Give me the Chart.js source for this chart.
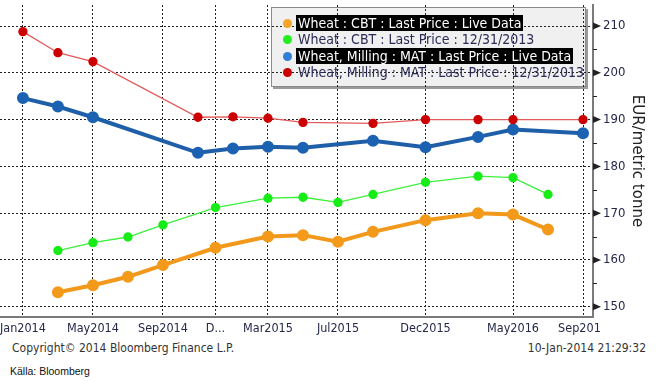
<!DOCTYPE html>
<html>
<head>
<meta charset="utf-8">
<script src="https://cdn.jsdelivr.net/npm/chart.js@4/dist/chart.umd.min.js"></script>
<style>
  body { margin: 0; background: #fff; width: 656px; height: 381px; overflow: hidden; position: relative; }
  #wrap { position: absolute; left: 0; top: 0; width: 656px; height: 340px; }
  .lg { position: absolute; left: 296px; height: 16px; line-height: 16px; font: 14px "DejaVu Sans Condensed", "DejaVu Sans", sans-serif; color: #2a2a55; white-space: nowrap; padding: 0 2px; }
  .lg.hi { background: #000; color: #fff; }
  .dot { position: absolute; left: 283px; width: 9px; height: 9px; border-radius: 50%; }
  .foot { position: absolute; font: 12px "DejaVu Sans Condensed", "DejaVu Sans", sans-serif; color: #333; white-space: nowrap; }
</style>
</head>
<body>
<div id="wrap"><canvas id="chart" width="656" height="340"></canvas></div>

<div class="dot" style="top:19px;background:#f5a52a"></div>
<div class="lg hi" style="top:15px">Wheat : CBT : Last Price : Live Data</div>
<div class="dot" style="top:35px;background:#22ee22"></div>
<div class="lg" style="top:31px">Wheat : CBT : Last Price : 12/31/2013</div>
<div class="dot" style="top:52px;background:#2f7fd6"></div>
<div class="lg hi" style="top:48px">Wheat, Milling : MAT : Last Price : Live Data</div>
<div class="dot" style="top:68px;background:#cc0000"></div>
<div class="lg" style="top:64px">Wheat, Milling : MAT : Last Price : 12/31/2013</div>

<div class="foot" style="left:12px;top:341px">Copyright© 2014 Bloomberg Finance L.P.</div>
<div class="foot" style="right:10px;top:341px">10-Jan-2014 21:29:32</div>
<div class="foot" style="left:10px;top:365px;font:10.5px 'Liberation Sans', Arial, sans-serif;color:#111">Källa: Bloomberg</div>

<script>
// months counted from Jan 2014
const cbtMonths = [2, 4, 6, 8, 11, 14, 16, 18, 20, 23, 26, 28, 30];
const matMonths = [0, 2, 4, 10, 12, 14, 16, 20, 23, 26, 28, 32];

const cbtLive = [153.1, 154.6, 156.4, 158.9, 162.6, 165.0, 165.3, 163.9, 166.0, 168.5, 170.0, 169.7, 166.5];
const cbtOld = [162.0, 163.7, 164.9, 167.5, 171.2, 173.2, 173.4, 172.3, 174.0, 176.6, 177.9, 177.6, 174.0];
const matLive = [194.6, 192.8, 190.5, 182.9, 183.8, 184.2, 184.0, 185.5, 184.1, 186.3, 187.9, 187.1];
const matOld = [208.8, 204.3, 202.4, 190.5, 190.6, 190.3, 189.4, 189.2, 190.0, 190.0, 190.0, 190.0];

const xTickMonths = [0, 4, 8, 11, 14, 18, 23, 28, 32];
const xTickLabels = ["Jan2014", "May2014", "Sep2014", "D...", "Mar2015", "Jul2015", "Dec2015", "May2016", "Sep2016"];
const yTicks = [150, 160, 170, 180, 190, 200, 210];
const yMinor = [155, 165, 175, 185, 195, 205];

const pts = (xs, ys) => xs.map((x, i) => ({ x: x, y: ys[i] }));

const tickFont = { family: "'DejaVu Sans Condensed', 'DejaVu Sans', sans-serif", size: 12.5 };

function noPad(s) {
    s.paddingLeft = 0;
    s.paddingRight = 0;
    s.paddingTop = 0;
    s.paddingBottom = 0;
}

// legend box behind the grid, arrow ticks on the right axis
const decor = {
    id: "decor",
    beforeDraw(chart) {
        const ctx = chart.ctx;
        ctx.save();
        ctx.fillStyle = "#9a9a9a";
        ctx.fillRect(273, 9, 315, 80);
        ctx.fillStyle = "#f0f0f0";
        ctx.fillRect(271, 7, 315, 80);
        ctx.strokeStyle = "#8a8a8a";
        ctx.lineWidth = 1;
        ctx.strokeRect(271.5, 7.5, 314, 79);
        ctx.restore();
    },
    afterDraw(chart) {
        const ctx = chart.ctx;
        const y = chart.scales.y;
        const x0 = chart.chartArea.right;
        ctx.save();
        ctx.fillStyle = "#222";
        yTicks.forEach(v => {
            const py = y.getPixelForValue(v);
            ctx.beginPath();
            ctx.moveTo(x0, py - 3.5);
            ctx.lineTo(x0 + 8, py);
            ctx.lineTo(x0, py + 3.5);
            ctx.closePath();
            ctx.fill();
        });
        ctx.strokeStyle = "#222";
        ctx.lineWidth = 1;
        yMinor.forEach(v => {
            const py = Math.round(y.getPixelForValue(v)) + 0.5;
            ctx.beginPath();
            ctx.moveTo(x0, py);
            ctx.lineTo(x0 + 4, py);
            ctx.stroke();
        });
        // last x label is cut by the axis area
        ctx.fillStyle = "#fff";
        ctx.fillRect(601, chart.chartArea.bottom + 2, 60, 30);
        ctx.restore();
    }
};

new Chart(document.getElementById("chart"), {
    type: "line",
    data: {
        datasets: [
            {
                label: "Wheat, Milling : MAT : Last Price : 12/31/2013",
                data: pts(matMonths, matOld),
                borderColor: "#e25a5a",
                borderWidth: 1.3,
                pointBackgroundColor: "#cc0000",
                pointBorderColor: "#cc0000",
                pointRadius: 4
            },
            {
                label: "Wheat, Milling : MAT : Last Price : Live Data",
                data: pts(matMonths, matLive),
                borderColor: "#1f5fa8",
                borderWidth: 4,
                pointBackgroundColor: "#1c62b2",
                pointBorderColor: "#1c62b2",
                pointRadius: 4
            },
            {
                label: "Wheat : CBT : Last Price : 12/31/2013",
                data: pts(cbtMonths, cbtOld),
                borderColor: "#3cf03c",
                borderWidth: 1.3,
                pointBackgroundColor: "#16ec16",
                pointBorderColor: "#16ec16",
                pointRadius: 4
            },
            {
                label: "Wheat : CBT : Last Price : Live Data",
                data: pts(cbtMonths, cbtLive),
                borderColor: "#f2981a",
                borderWidth: 4,
                pointBackgroundColor: "#f39a1a",
                pointBorderColor: "#f39a1a",
                pointRadius: 4
            }
        ]
    },
    options: {
        responsive: false,
        animation: false,
        layout: { autoPadding: false, padding: { top: 5, left: 0, right: 0, bottom: 0 } },
        plugins: { legend: { display: false }, tooltip: { enabled: false } },
        elements: { line: { tension: 0 } },
        scales: {
            x: {
                type: "linear",
                min: -1.31,
                max: 32.57,
                afterBuildTicks: s => { s.ticks = xTickMonths.map(v => ({ value: v })); },
                afterFit: s => { s.height = 23; noPad(s); },
                ticks: {
                    autoSkip: false,
                    maxRotation: 0,
                    padding: 4,
                    color: "#24284a",
                    font: tickFont,
                    callback: v => xTickLabels[xTickMonths.indexOf(v)]
                },
                grid: { color: "#222", lineWidth: 1, drawTicks: false },
                border: { display: true, color: "#7a7a7a", width: 2, dash: [2, 2] }
            },
            y: {
                position: "right",
                min: 147.8,
                max: 214.5,
                afterBuildTicks: s => { s.ticks = yTicks.map(v => ({ value: v })); },
                afterFit: s => { s.width = 63; noPad(s); },
                ticks: { padding: 10, color: "#24284a", font: { ...tickFont, size: 13 } },
                grid: { color: "#222", lineWidth: 1, drawTicks: false },
                border: { display: true, color: "#7a7a7a", width: 2, dash: [2, 2] },
                title: {
                    display: true,
                    text: "EUR/metric tonne",
                    color: "#222",
                    font: { family: "'DejaVu Sans', sans-serif", size: 15 },
                    padding: { top: 10 }
                }
            }
        }
    },
    plugins: [decor]
});
</script>
</body>
</html>
